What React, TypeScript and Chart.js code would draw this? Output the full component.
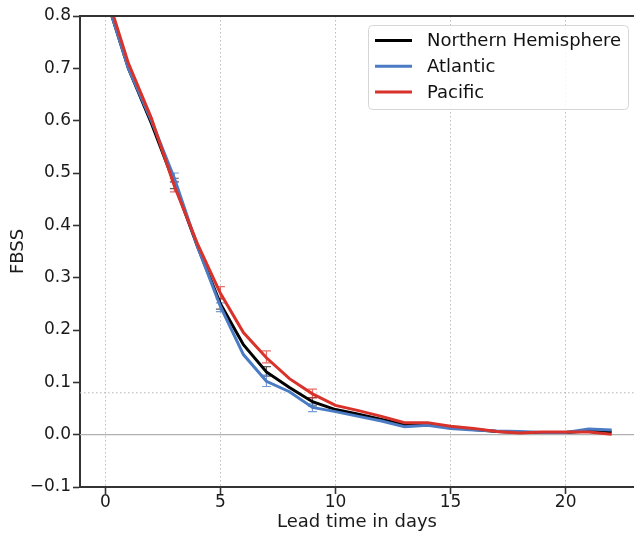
import React, { useEffect, useRef } from "react";
import { Chart, registerables } from "chart.js";

Chart.register(...registerables);

const DAYS = [0, 1, 2, 3, 4, 5, 6, 7, 8, 9, 10, 11, 12, 13, 14, 15, 16, 17, 18, 19, 20, 21, 22];
const NORTHERN_HEMISPHERE = [0.84, 0.70, 0.595, 0.48, 0.36, 0.25, 0.172, 0.12, 0.09, 0.063, 0.048, 0.039, 0.029, 0.019, 0.02, 0.014, 0.01, 0.006, 0.004, 0.004, 0.004, 0.007, 0.005];
const ATLANTIC = [0.84, 0.70, 0.60, 0.49, 0.36, 0.245, 0.153, 0.102, 0.082, 0.052, 0.044, 0.035, 0.026, 0.015, 0.018, 0.012, 0.009, 0.007, 0.006, 0.004, 0.004, 0.011, 0.009];
const PACIFIC = [0.85, 0.71, 0.605, 0.475, 0.365, 0.27, 0.195, 0.147, 0.107, 0.078, 0.056, 0.046, 0.035, 0.023, 0.023, 0.016, 0.012, 0.006, 0.003, 0.005, 0.005, 0.005, 0.001];

const ERROR_DAYS = [3, 5, 7, 9];
const NH_LOW = [0.470, 0.240, 0.112, 0.055];
const NH_HIGH = [0.490, 0.260, 0.130, 0.071];
const ATL_LOW = [0.482, 0.235, 0.092, 0.044];
const ATL_HIGH = [0.500, 0.252, 0.114, 0.059];
const PAC_LOW = [0.464, 0.260, 0.137, 0.070];
const PAC_HIGH = [0.484, 0.283, 0.160, 0.087];

const X_TICKS = [0, 5, 10, 15, 20];
const Y_TICKS = [-0.1, 0, 0.1, 0.2, 0.3, 0.4, 0.5, 0.6, 0.7, 0.8];
const X_MIN = -1.1;
const X_MAX = 22.97;
const Y_MIN = -0.1;
const Y_MAX = 0.8;
const REFERENCE_LEVEL = 0.08;

const SERIES_NAMES = ["Northern Hemisphere", "Atlantic", "Pacific"];
const SERIES_COLORS = ["#000000", "#4a7bc4", "#d8322a"];
const ERROR_COLORS = ["rgba(40,40,40,0.75)", "rgba(74,123,196,0.75)", "rgba(216,50,42,0.7)"];

const FONT = "'DejaVu Sans', sans-serif";

export default function App() {
  const canvasRef = useRef<HTMLCanvasElement | null>(null);

  useEffect(() => {
    const canvas = canvasRef.current;
    if (!canvas) return;

    const seriesValues = [NORTHERN_HEMISPHERE, ATLANTIC, PACIFIC];
    const errLow = [NH_LOW, ATL_LOW, PAC_LOW];
    const errHigh = [NH_HIGH, ATL_HIGH, PAC_HIGH];

    const refLinesPlugin = {
      id: "refLines",
      beforeDatasetsDraw(chart: any) {
        const { ctx, chartArea, scales } = chart;
        const xs = scales.x;
        const ys = scales.y;
        ctx.save();
        ctx.strokeStyle = "#b0b0b0";
        ctx.lineWidth = 1.2;
        ctx.setLineDash([]);
        const y0 = ys.getPixelForValue(0);
        ctx.beginPath();
        ctx.moveTo(chartArea.left, y0);
        ctx.lineTo(chartArea.right, y0);
        ctx.stroke();
        const yr = ys.getPixelForValue(REFERENCE_LEVEL);
        ctx.strokeStyle = "#b5b5b5";
        ctx.lineWidth = 1;
        ctx.setLineDash([1.5, 2.5]);
        ctx.beginPath();
        ctx.moveTo(chartArea.left, yr);
        ctx.lineTo(chartArea.right, yr);
        ctx.stroke();
        ctx.setLineDash([]);
        for (let s = 0; s < 3; s++) {
          ctx.strokeStyle = ERROR_COLORS[s];
          ctx.lineWidth = 1.2;
          for (let i = 0; i < ERROR_DAYS.length; i++) {
            const x = xs.getPixelForValue(ERROR_DAYS[i]);
            const yl = ys.getPixelForValue(errLow[s][i]);
            const yh = ys.getPixelForValue(errHigh[s][i]);
            ctx.beginPath();
            ctx.moveTo(x, yl);
            ctx.lineTo(x, yh);
            ctx.moveTo(x - 4.5, yl);
            ctx.lineTo(x + 4.5, yl);
            ctx.moveTo(x - 4.5, yh);
            ctx.lineTo(x + 4.5, yh);
            ctx.stroke();
          }
        }
        ctx.restore();
      },
    };

    const framePlugin = {
      id: "frameAndLegend",
      afterDraw(chart: any) {
        const { ctx, chartArea } = chart;
        ctx.save();
        ctx.strokeStyle = "#333333";
        ctx.lineWidth = 2;
        ctx.beginPath();
        ctx.moveTo(chartArea.left - 1, chartArea.top);
        ctx.lineTo(chartArea.right, chartArea.top);
        ctx.stroke();

        const bx = 368.5, by = 25.5, bw = 260, bh = 84, r = 4;
        ctx.beginPath();
        ctx.moveTo(bx + r, by);
        ctx.lineTo(bx + bw - r, by);
        ctx.quadraticCurveTo(bx + bw, by, bx + bw, by + r);
        ctx.lineTo(bx + bw, by + bh - r);
        ctx.quadraticCurveTo(bx + bw, by + bh, bx + bw - r, by + bh);
        ctx.lineTo(bx + r, by + bh);
        ctx.quadraticCurveTo(bx, by + bh, bx, by + bh - r);
        ctx.lineTo(bx, by + r);
        ctx.quadraticCurveTo(bx, by, bx + r, by);
        ctx.closePath();
        ctx.fillStyle = "rgba(255,255,255,0.85)";
        ctx.fill();
        ctx.strokeStyle = "#d6d6d6";
        ctx.lineWidth = 1;
        ctx.stroke();

        ctx.font = `18px ${FONT}`;
        ctx.textBaseline = "middle";
        ctx.textAlign = "left";
        for (let s = 0; s < 3; s++) {
          const yy = 40.5 + s * 25.8;
          ctx.strokeStyle = SERIES_COLORS[s];
          ctx.lineWidth = 3;
          ctx.beginPath();
          ctx.moveTo(375, yy);
          ctx.lineTo(412, yy);
          ctx.stroke();
          ctx.fillStyle = "#111111";
          ctx.fillText(SERIES_NAMES[s], 427, yy + 1);
        }
        ctx.restore();
      },
    };

    const datasets = SERIES_NAMES.map((name, s) => ({
      label: name,
      data: DAYS.map((d, i) => ({ x: d, y: seriesValues[s][i] })),
      borderColor: SERIES_COLORS[s],
      backgroundColor: SERIES_COLORS[s],
      borderWidth: 3,
      pointRadius: 0,
      tension: 0,
      fill: false,
      order: 3 - s,
    }));

    const chart = new Chart(canvas, {
      type: "line",
      data: { datasets },
      options: {
        animation: false,
        responsive: false,
        devicePixelRatio: 1,
        layout: { padding: { top: 16, right: 0, bottom: 0, left: 0 } },
        plugins: {
          legend: { display: false },
          tooltip: { enabled: false },
        },
        scales: {
          x: {
            type: "linear",
            min: X_MIN,
            max: X_MAX,
            afterBuildTicks: (scale: any) => {
              scale.ticks = X_TICKS.map((v) => ({ value: v }));
            },
            afterFit: (scale: any) => {
              scale.height = 47;
            },
            grid: {
              display: true,
              drawOnChartArea: true,
              drawTicks: true,
              color: "#bdbdbd",
              lineWidth: 1,
              tickColor: "#333333",
              tickWidth: 1.6,
              tickLength: 7,
              tickBorderDash: [],
            },
            border: { display: true, color: "#333333", width: 2, dash: [1.5, 2.5] },
            ticks: {
              color: "#1a1a1a",
              padding: 0,
              maxRotation: 0,
              font: { family: FONT, size: 17, lineHeight: 1 },
              callback: (v: any) => String(v),
            },
            title: {
              display: true,
              text: "Lead time in days",
              color: "#1a1a1a",
              font: { family: FONT, size: 18, lineHeight: 1.2 },
              padding: { top: 0, bottom: 1 },
            },
          },
          y: {
            type: "linear",
            min: Y_MIN,
            max: Y_MAX,
            afterBuildTicks: (scale: any) => {
              scale.ticks = Y_TICKS.map((v) => ({ value: v }));
            },
            afterFit: (scale: any) => {
              scale.width = 80;
            },
            grid: {
              display: true,
              drawOnChartArea: false,
              drawTicks: true,
              tickColor: "#333333",
              tickWidth: 1.6,
              tickLength: 7,
              tickBorderDash: [],
            },
            border: { display: true, color: "#333333", width: 2 },
            ticks: {
              color: "#1a1a1a",
              padding: 2,
              font: { family: FONT, size: 17, lineHeight: 1 },
              callback: (v: any) => {
                const n = Math.abs(v) < 1e-9 ? 0 : v;
                return n.toFixed(1).replace("-", "\u2212");
              },
            },
            title: {
              display: true,
              text: "FBSS",
              color: "#1a1a1a",
              font: { family: FONT, size: 18, lineHeight: 1.2 },
              padding: { top: 8, bottom: 0 },
            },
          },
        },
      },
      plugins: [refLinesPlugin, framePlugin],
    } as any);

    return () => {
      chart.destroy();
    };
  }, []);

  return (
    <div style={{ position: "absolute", left: 0, top: 0, width: 634, height: 534, background: "#ffffff" }}>
      <canvas ref={canvasRef} width={634} height={534} style={{ display: "block", width: 634, height: 534 }} />
    </div>
  );
}
